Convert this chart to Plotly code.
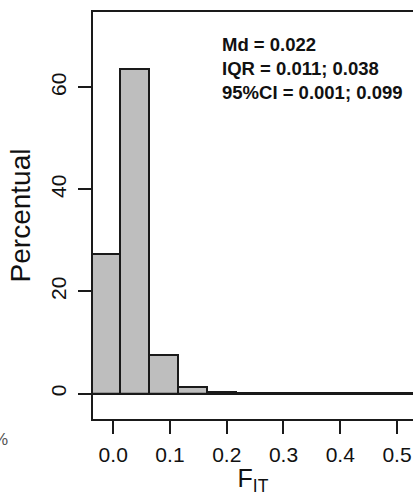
import plotly.graph_objects as go

# Histogram of F_IT (percent of estimates per bin)
bin_start = -0.0400
bin_width = 0.0513
percent = [27.3, 63.7, 7.5, 1.2, 0.25, 0.04, 0.03, 0.02, 0.02, 0.01, 0.01, 0.01]
bin_centers = [bin_start + bin_width * (i + 0.5) for i in range(len(percent))]

x_ticks = [0.0, 0.1, 0.2, 0.3, 0.4, 0.5]
x_tick_text = ["0.0", "0.1", "0.2", "0.3", "0.4", "0.5"]
y_ticks = [0, 20, 40, 60]

summary_lines = ["Md = 0.022", "IQR = 0.011; 0.038", "95%CI = 0.001; 0.099"]

FONT = "Liberation Sans, Arial, sans-serif"

fig = go.Figure()
fig.add_trace(go.Bar(
    x=bin_centers,
    y=percent,
    width=bin_width,
    marker=dict(color="#bebebe", line=dict(color="#1a1a1a", width=2)),
    showlegend=False,
    hoverinfo="skip",
))

fig.update_layout(
    width=413,
    height=496,
    margin=dict(l=93, r=0, t=12, b=77),
    paper_bgcolor="white",
    plot_bgcolor="white",
    font=dict(family=FONT, color="#111", size=20),
    bargap=0,
    xaxis=dict(
        range=[-0.0356, 0.5282],
        tickvals=x_ticks,
        ticktext=x_tick_text,
        ticks="outside",
        ticklen=13,
        tickwidth=2,
        tickcolor="#1a1a1a",
        showline=True,
        mirror=True,
        linecolor="#1a1a1a",
        linewidth=2,
        showgrid=False,
        zeroline=False,
        tickfont=dict(size=21),
        ticklabelstandoff=3,
        title=dict(text="F<sub>IT</sub>", font=dict(size=25), standoff=2),
    ),
    yaxis=dict(
        range=[-5.0, 74.8],
        tickvals=y_ticks,
        ticks="outside",
        ticklen=13,
        tickwidth=2,
        tickcolor="#1a1a1a",
        tickangle=-90,
        showline=True,
        mirror=False,
        linecolor="#1a1a1a",
        linewidth=2,
        showgrid=False,
        zeroline=False,
        tickfont=dict(size=21),
        ticklabelstandoff=4,
        title=dict(text="Percentual", font=dict(size=28), standoff=8),
    ),
)

# Zero baseline across the whole plotting width
fig.add_hline(y=0, line=dict(color="#1a1a1a", width=1.5))

fig.add_annotation(
    x=0.1875, y=63.8, xref="x", yref="y",
    text="<br>".join(summary_lines),
    showarrow=False,
    xanchor="left", yanchor="middle", align="left",
    font=dict(family=FONT, size=18.5, color="#111", weight="bold"),
)

# Stray "%" glyph at the far left edge, partly outside the page
fig.add_annotation(
    x=-0.29, y=-0.05, xref="paper", yref="paper",
    text="%", showarrow=False,
    xanchor="center", yanchor="middle",
    font=dict(family=FONT, size=17, color="#555"),
)

fig.write_html("out.html")
